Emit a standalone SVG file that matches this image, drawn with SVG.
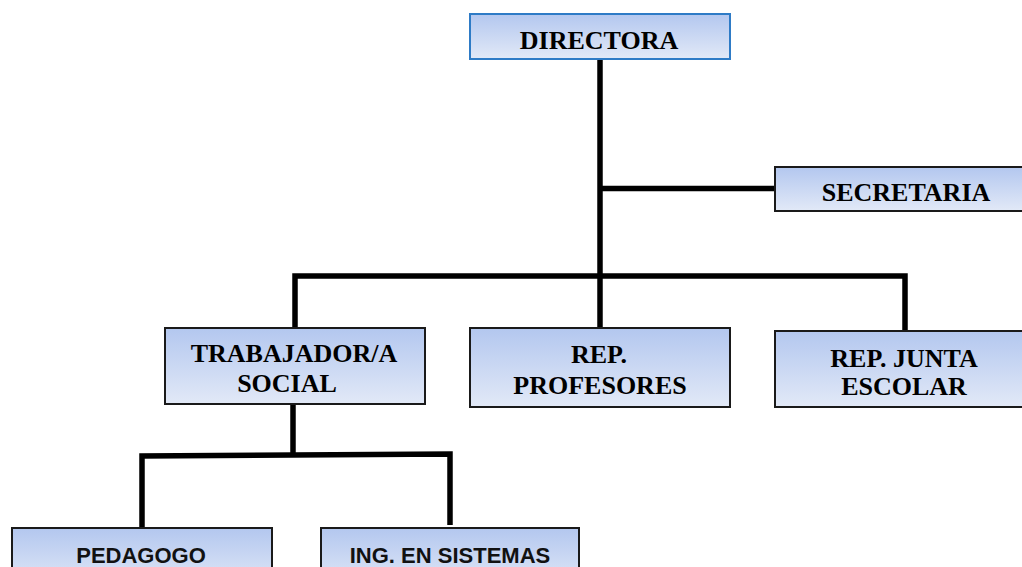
<svg xmlns="http://www.w3.org/2000/svg" width="1022" height="567" viewBox="0 0 1022 567">
<defs>
<linearGradient id="g" x1="0" y1="0" x2="0" y2="1">
<stop offset="0" stop-color="#b3c7ef"/>
<stop offset="1" stop-color="#e2e9f7"/>
</linearGradient>
</defs>
<style>
.box{fill:url(#g);stroke:#1a1a1a;stroke-width:2}
.top{stroke:#2e7bc6}
.t{font-family:"Liberation Serif","Times New Roman",serif;font-weight:bold;font-size:26px;fill:#000;text-anchor:middle}
.s{font-family:"Liberation Sans",Arial,sans-serif;font-weight:bold;font-size:22px;fill:#111;text-anchor:middle}
.c{fill:none;stroke:#000;stroke-width:5.5;stroke-linejoin:miter}
</style>
<rect width="1022" height="567" fill="#fff"/>
<g id="connectors">
<path class="c" d="M600,59 V328"/>
<path class="c" d="M600,188.5 H775"/>
<path class="c" d="M295,328 V276 H905 V331"/>
<path class="c" d="M293,404 V455"/>
<path class="c" d="M142,528 V456 L450,454 V525"/>
</g>
<g id="directora">
<rect class="box top" x="470" y="14" width="260" height="45"/>
<text class="t" x="599" y="49">DIRECTORA</text>
</g>
<g id="secretaria">
<rect class="box" x="775" y="167" width="260" height="44"/>
<text class="t" x="906" y="201">SECRETARIA</text>
</g>
<g id="trabajador">
<rect class="box" x="165" y="328" width="260" height="76"/>
<text class="t" x="294" y="362">TRABAJADOR/A</text>
<text class="t" x="287" y="392">SOCIAL</text>
</g>
<g id="rep-profesores">
<rect class="box" x="470" y="328" width="260" height="79"/>
<text class="t" x="599" y="363">REP.</text>
<text class="t" x="600" y="394">PROFESORES</text>
</g>
<g id="rep-junta">
<rect class="box" x="775" y="331" width="260" height="76"/>
<text class="t" x="904" y="367">REP. JUNTA</text>
<text class="t" x="904" y="395">ESCOLAR</text>
</g>
<g id="pedagogo">
<rect class="box" x="12" y="528" width="260" height="60"/>
<text class="s" x="141" y="563">PEDAGOGO</text>
</g>
<g id="ing-sistemas">
<rect class="box" x="321" y="528" width="258" height="60"/>
<text class="s" x="450" y="563">ING. EN SISTEMAS</text>
</g>
</svg>
